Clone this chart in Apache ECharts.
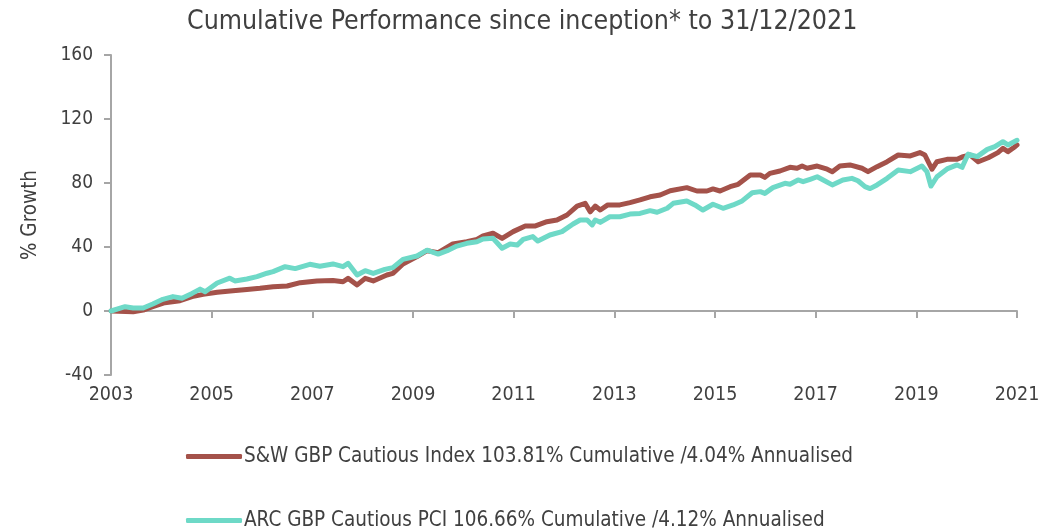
<!DOCTYPE html>
<html><head><meta charset="utf-8">
<script src="https://cdn.jsdelivr.net/npm/echarts@6/dist/echarts.min.js"></script>
<style>html,body{margin:0;padding:0;background:#fff}#c{width:1064px;height:531px}</style>
</head><body><div id="c"></div>
<script>
const titleText = 'Cumulative Performance since inception* to 31/12/2021';
const yAxisName = '% Growth';
const seriesNames = ['S&W GBP Cautious Index 103.81% Cumulative /4.04% Annualised', 'ARC GBP Cautious PCI 106.66% Cumulative /4.12% Annualised'];
const yTicks = [-40, 0, 40, 80, 120, 160];
const xTicks = [2003, 2005, 2007, 2009, 2011, 2013, 2015, 2017, 2019, 2021];

const swYears = [2003.00,2003.44,2003.64,2003.83,2004.07,2004.37,2004.61,2004.83,2005.11,2005.42,2005.70,2005.96,2006.22,2006.50,2006.76,2007.09,2007.41,2007.61,2007.71,2007.89,2008.05,2008.21,2008.48,2008.60,2008.80,2009.08,2009.28,2009.50,2009.79,2010.07,2010.27,2010.39,2010.59,2010.77,2010.99,2011.23,2011.42,2011.66,2011.86,2012.06,2012.26,2012.42,2012.52,2012.62,2012.72,2012.87,2013.11,2013.31,2013.51,2013.71,2013.91,2014.11,2014.44,2014.64,2014.84,2014.96,2015.10,2015.30,2015.46,2015.70,2015.90,2015.99,2016.09,2016.29,2016.49,2016.63,2016.73,2016.83,2017.03,2017.23,2017.33,2017.48,2017.68,2017.92,2018.04,2018.22,2018.42,2018.64,2018.88,2019.07,2019.17,2019.31,2019.41,2019.61,2019.81,2019.93,2020.07,2020.23,2020.43,2020.62,2020.72,2020.82,2020.96,2021.00];
const swValues = [0,-0.5,0.6,2.7,5.2,6.4,9.0,10.4,11.7,12.7,13.5,14.2,15.2,15.6,17.7,18.8,19.0,18.3,20.4,16.3,20.4,18.8,22.5,23.5,29.4,34.0,37.7,36.5,41.9,43.3,44.8,46.9,48.6,45.4,49.6,53.1,53.1,55.8,56.9,60.0,65.6,67.3,62.0,65.6,63.1,66.3,66.3,67.7,69.4,71.4,72.5,75.2,77.1,75.0,75.0,76.3,75.0,77.7,79.2,85.0,85.0,83.5,86.0,87.5,89.8,89.2,90.6,89.2,90.6,88.6,87.1,90.6,91.3,89.2,87.1,90.2,93.3,97.5,96.9,99.0,97.5,88.6,93.3,94.8,94.8,96.5,97.5,93.3,95.8,99.0,101.7,99.6,102.7,103.81];

const arcYears = [2003.00,2003.28,2003.44,2003.64,2003.83,2004.03,2004.23,2004.41,2004.61,2004.77,2004.87,2005.11,2005.36,2005.46,2005.70,2005.90,2006.10,2006.22,2006.46,2006.66,2006.95,2007.15,2007.41,2007.61,2007.71,2007.89,2008.05,2008.21,2008.44,2008.60,2008.80,2009.08,2009.28,2009.50,2009.68,2009.87,2010.07,2010.27,2010.39,2010.59,2010.77,2010.93,2011.07,2011.19,2011.38,2011.48,2011.72,2011.96,2012.18,2012.32,2012.46,2012.56,2012.62,2012.72,2012.91,2013.11,2013.31,2013.51,2013.71,2013.85,2014.05,2014.17,2014.44,2014.60,2014.76,2014.96,2015.16,2015.36,2015.54,2015.74,2015.90,2015.99,2016.15,2016.39,2016.49,2016.65,2016.75,2016.89,2017.03,2017.15,2017.33,2017.54,2017.72,2017.84,2017.98,2018.08,2018.22,2018.42,2018.64,2018.88,2019.11,2019.21,2019.29,2019.41,2019.61,2019.81,2019.91,2020.03,2020.21,2020.41,2020.56,2020.72,2020.82,2021.00];
const arcValues = [0,2.7,1.9,1.9,4.4,7.3,9.0,8.0,11.0,13.7,12.0,17.5,20.5,18.8,20.0,21.5,23.6,24.6,27.7,26.5,29.2,28.0,29.4,27.7,29.8,22.5,25.2,23.5,26.0,27.1,32.3,34.4,38.0,35.6,37.7,40.6,42.3,43.3,45.0,45.4,39.2,41.9,41.2,44.8,46.5,43.7,47.5,49.6,54.4,56.9,56.9,53.8,56.9,55.4,58.9,58.9,60.6,61.0,62.7,61.7,64.2,67.3,68.8,66.3,63.1,66.7,64.2,66.3,68.8,73.9,74.6,73.5,77.1,79.8,79.2,81.9,80.8,82.3,83.9,81.9,78.8,81.9,82.9,81.4,77.7,76.5,78.8,82.9,88.1,87.1,90.6,87.1,78.1,83.9,88.8,91.3,89.8,98.1,96.5,101.0,102.7,105.8,103.8,106.66];

const FONT = "'DejaVu Sans Condensed', 'Liberation Sans Narrow', 'DejaVu Sans', sans-serif";
const TXT = '#404040';
const RED = '#A4524A';
const TEAL = '#6ED9C7';

function legendFor(name, top) {
  return {
    orient: 'horizontal', left: 181, top: top, itemWidth: 56, itemHeight: 5,
    icon: 'roundRect',
    textStyle: {fontFamily: FONT, fontSize: 20.5, color: TXT, padding: [0,0,0,-3]},
    data: [name]
  };
}

const chart = echarts.init(document.getElementById('c'), null, {renderer: 'canvas'});
chart.setOption({
  animation: false,
  textStyle: {fontFamily: FONT},
  title: {text: titleText, left: 182, top: 4, textStyle: {fontFamily: FONT, fontSize: 26.5, fontWeight: 'normal', color: TXT}},
  grid: {left: 111, right: 47, top: 55, bottom: 156, containLabel: false},
  legend: [legendFor(seriesNames[0], 441), legendFor(seriesNames[1], 505)],
  xAxis: [
    {type: 'value', min: xTicks[0], max: xTicks[xTicks.length-1], interval: 2, position: 'bottom',
     axisLine: {show: false, onZero: false}, axisTick: {show: false}, splitLine: {show: false},
     axisLabel: {fontFamily: FONT, fontSize: 19.5, color: TXT, margin: 10, formatter: v => String(v)}},
    {type: 'value', min: xTicks[0], max: xTicks[xTicks.length-1], interval: 2, position: 'bottom',
     axisLine: {show: true, onZero: true, lineStyle: {color: '#A6A6A6', width: 2}},
     axisTick: {show: true, length: 7, lineStyle: {color: '#A6A6A6', width: 2}},
     axisLabel: {show: false}, splitLine: {show: false}}
  ],
  yAxis: {
    type: 'value', min: yTicks[0], max: yTicks[yTicks.length-1], interval: 40,
    name: yAxisName, nameLocation: 'middle', nameGap: 70, nameRotate: 90,
    nameTextStyle: {fontFamily: FONT, fontSize: 20.5, color: TXT},
    axisLine: {show: true, lineStyle: {color: '#A6A6A6', width: 2}},
    axisTick: {show: true, length: 7, lineStyle: {color: '#A6A6A6', width: 2}},
    axisLabel: {fontFamily: FONT, fontSize: 19, color: TXT, margin: 18},
    splitLine: {show: false}
  },
  series: [
    {name: seriesNames[0], type: 'line', xAxisIndex: 1, showSymbol: false, symbol: 'none',
     data: swYears.map((x, i) => [x, swValues[i]]), lineStyle: {color: RED, width: 5, cap: 'round', join: 'round'}, itemStyle: {color: RED}, z: 2},
    {name: seriesNames[1], type: 'line', xAxisIndex: 1, showSymbol: false, symbol: 'none',
     data: arcYears.map((x, i) => [x, arcValues[i]]), lineStyle: {color: TEAL, width: 5, cap: 'round', join: 'round'}, itemStyle: {color: TEAL}, z: 3}
  ]
});
</script></body></html>
